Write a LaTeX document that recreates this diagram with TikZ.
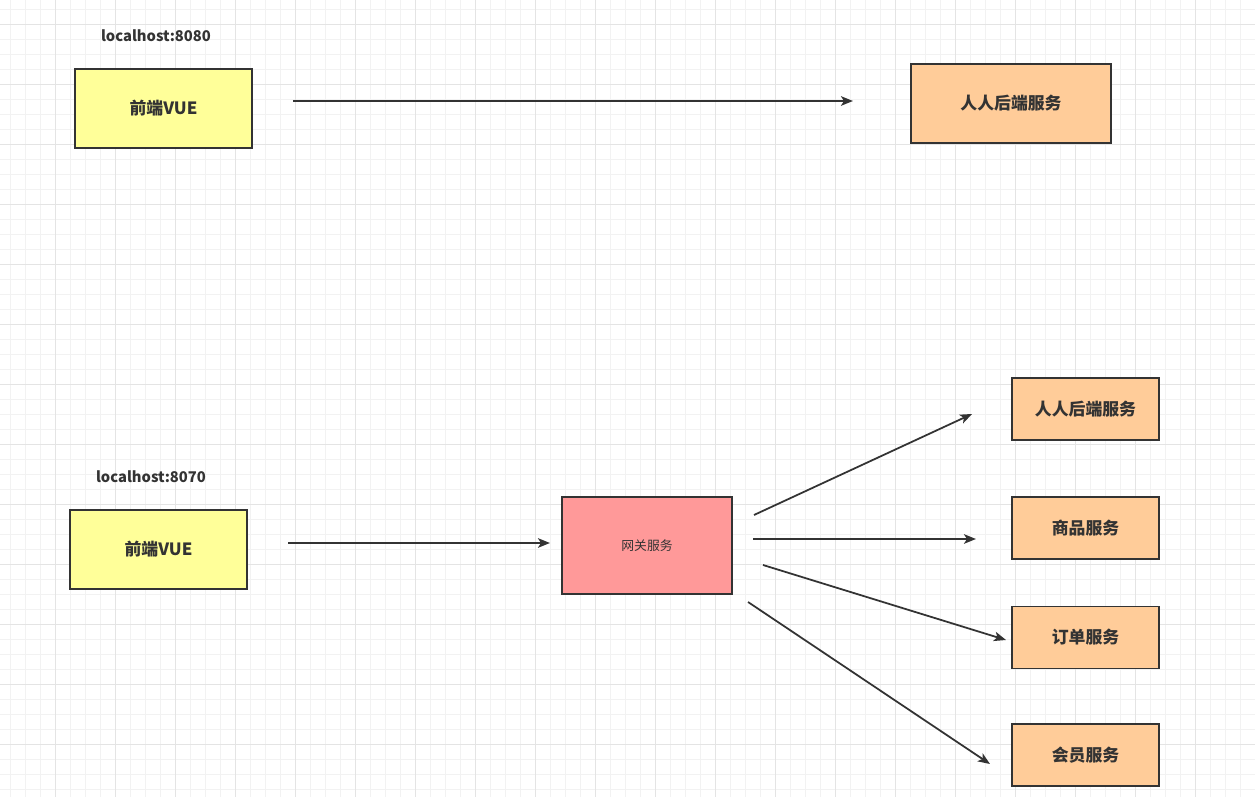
\documentclass[tikz,border=0pt]{standalone}
\usepackage{fontspec}
\setmainfont{Noto Sans CJK SC}
\definecolor{textgray}{RGB}{51, 51, 51}
\definecolor{linegray}{RGB}{51, 51, 51}
\definecolor{vueyellow}{RGB}{255, 255, 153}
\definecolor{svcorange}{RGB}{255, 204, 153}
\definecolor{gwpink}{RGB}{255, 153, 153}
\definecolor{gridminor}{RGB}{242, 242, 242}
\definecolor{gridmajor}{RGB}{228, 228, 228}
\usetikzlibrary{arrows.meta, positioning, calc}

\begin{document}
\begin{tikzpicture}[
    box/.style={draw=linegray, line width=1.1pt, text=textgray, font=\fontsize{9.6}{11}\selectfont\bfseries, inner sep=0pt},
    vuebox/.style={box, fill=vueyellow, minimum width=3.54cm, minimum height=1.58cm},
    svcbox/.style={box, fill=svcorange, minimum width=2.94cm, minimum height=1.24cm},
    hostlabel/.style={text=textgray, font=\fontsize{8.4}{10}\selectfont\bfseries},
    flow/.style={draw=linegray, line width=1pt, -{Stealth[length=2.4mm, width=1.9mm, inset=0.6mm]}}
  ]
  % canvas and grid
  \fill[white] (0,0) rectangle (25.1,-15.94);
  \useasboundingbox (0,0) rectangle (25.1,-15.94);
  \foreach \k in {0,...,82} {
    \draw[gridminor, line width=0.5pt] ({0.214+0.3*\k},0) -- ({0.214+0.3*\k},-15.94);
  }
  \foreach \k in {0,...,52} {
    \draw[gridminor, line width=0.5pt] (0,{-0.186-0.3*\k}) -- (25.1,{-0.186-0.3*\k});
  }
  \foreach \k in {0,...,20} {
    \draw[gridmajor, line width=0.5pt] ({1.114+1.2*\k},0) -- ({1.114+1.2*\k},-15.94);
  }
  \foreach \k in {0,...,13} {
    \draw[gridmajor, line width=0.5pt] (0,{-0.486-1.2*\k}) -- (25.1,{-0.486-1.2*\k});
  }

  % top: front end talks to the backend directly
  \node[hostlabel] (hosttop) at (3.12, -0.72) {localhost:8080};
  \node[vuebox] (vuetop) at (3.27, -2.17) {前端VUE};
  \node[box, fill=svcorange, minimum width=4.0cm, minimum height=1.58cm] (betop) at (20.22, -2.07) {人人后端服务};

  \coordinate (vuetopout) at (5.86, -2.02);
  \coordinate (betopin) at (17.06, -2.02);
  \draw[flow] (vuetopout) -- (betopin);

  % bottom: front end goes through the gateway
  \node[hostlabel] (hostbot) at (3.02, -9.54) {localhost:8070};
  \node[vuebox] (vuebot) at (3.17, -10.99) {前端VUE};
  \node[box, fill=gwpink, minimum width=3.4cm, minimum height=1.94cm, font=\fontsize{7.3}{8}\selectfont] (gw) at (12.94, -10.91) {网关服务};

  \node[svcbox] (renren) at (21.71, -8.18) {人人后端服务};
  \node[svcbox] (goods) at (21.71, -10.56) {商品服务};
  \node[svcbox] (order) at (21.71, -12.75) {订单服务};
  \node[svcbox] (member) at (21.71, -15.10) {会员服务};

  \coordinate (vuebotout) at (5.76, -10.86);
  \coordinate (gwin) at (11.0, -10.86);
  \draw[flow] (vuebotout) -- (gwin);

  \coordinate (gwout1) at (15.08, -10.30);
  \coordinate (renrenin) at (19.44, -8.28);
  \coordinate (gwout2) at (15.06, -10.78);
  \coordinate (goodsin) at (19.52, -10.78);
  \coordinate (gwout3) at (15.26, -11.30);
  \coordinate (orderin) at (20.12, -12.80);
  \coordinate (gwout4) at (14.96, -12.04);
  \coordinate (memberin) at (19.80, -15.28);
  \draw[flow] (gwout1) -- (renrenin);
  \draw[flow] (gwout2) -- (goodsin);
  \draw[flow] (gwout3) -- (orderin);
  \draw[flow] (gwout4) -- (memberin);
\end{tikzpicture}
\end{document}
